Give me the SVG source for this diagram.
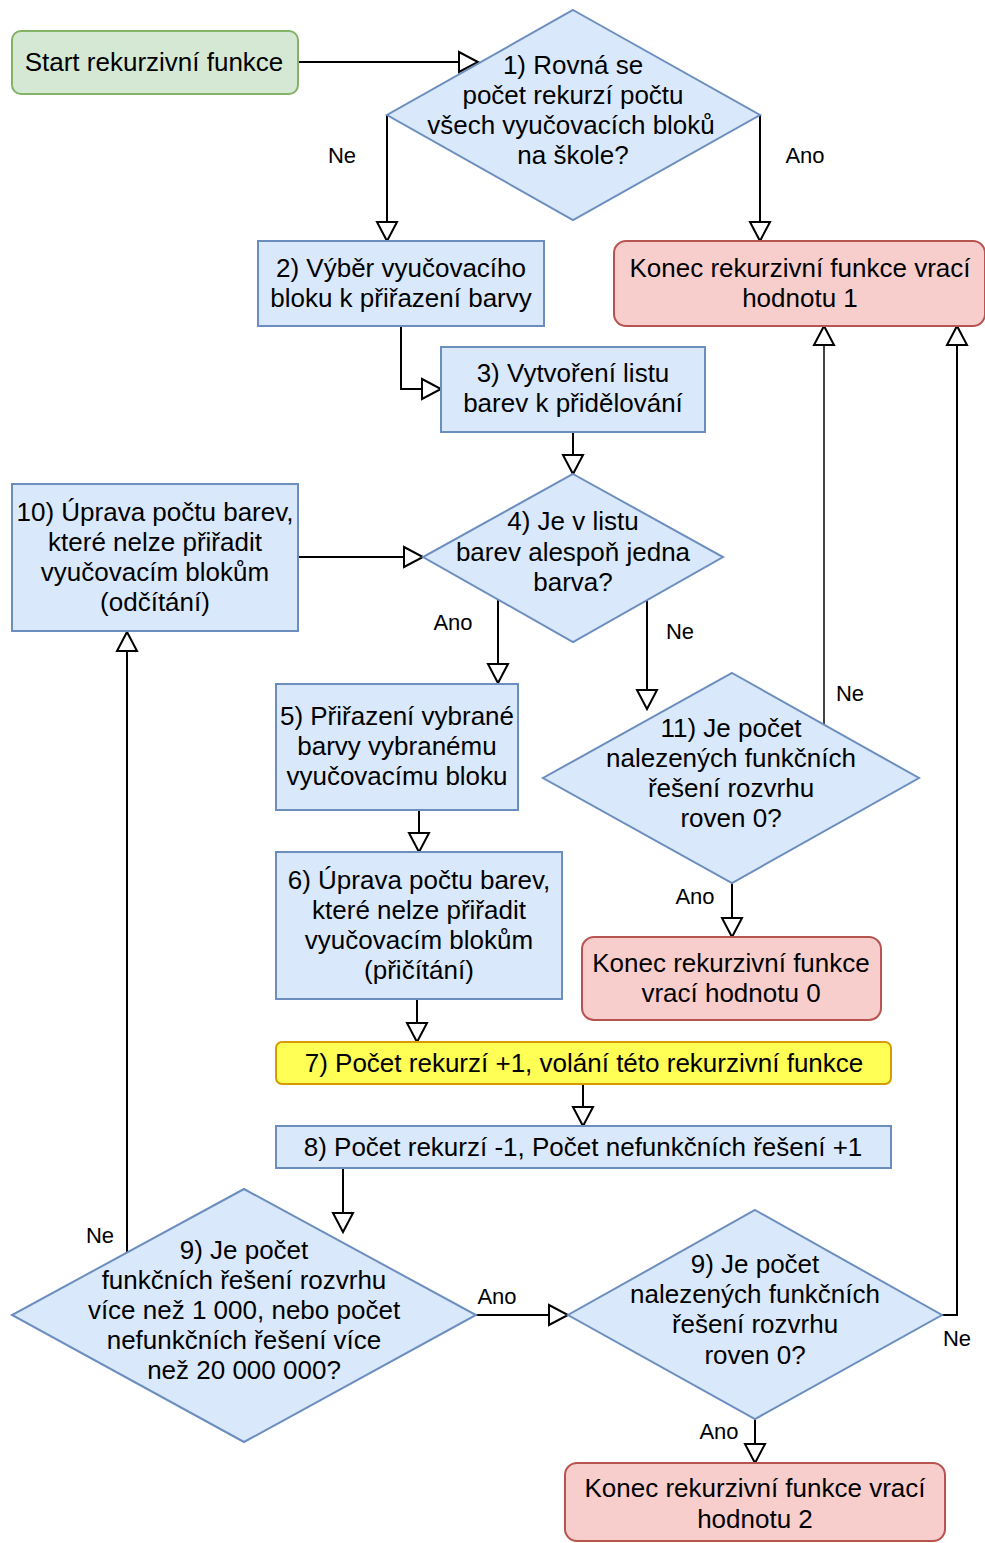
<svg xmlns="http://www.w3.org/2000/svg" width="985" height="1543" viewBox="0 0 985 1543">
<style>
text{font-family:"Liberation Sans",Arial,sans-serif;font-size:26px;fill:#000;text-anchor:middle}
.lbl{font-size:22px}
.blue{fill:#dae8fc;stroke:#6c8ebf;stroke-width:2}
.red{fill:#f8cecc;stroke:#b85450;stroke-width:2}
.green{fill:#d5e8d4;stroke:#82b366;stroke-width:2}
.yellow{fill:#ffff55;stroke:#d79b00;stroke-width:2}
.edge{fill:none;stroke:#000;stroke-width:2;marker-end:url(#arr)}
</style>
<defs>
<marker id="arr" markerWidth="24" markerHeight="24" viewBox="-2 -2 24 24" refX="19" refY="10" orient="auto" markerUnits="userSpaceOnUse">
<path d="M0,0 L19,10 L0,20 Z" fill="#fff" stroke="#000" stroke-width="2"/>
</marker>
</defs>
<rect width="985" height="1543" fill="#fff"/>
<g id="connectors">
<path class="edge" d="M298,62 H478"/>
<path class="edge" d="M387,115 V241"/>
<path class="edge" d="M760,115 V241"/>
<path class="edge" d="M401,326 V389 H441"/>
<path class="edge" d="M573,432 V474"/>
<path class="edge" d="M298,557 H423"/>
<path class="edge" d="M498,599 V683"/>
<path class="edge" d="M647,600 V709"/>
<path class="edge" d="M824,724 V326" style="stroke:#444"/>
<path class="edge" d="M732,883 V937"/>
<path class="edge" d="M419,810 V852"/>
<path class="edge" d="M417,1000 V1042"/>
<path class="edge" d="M583,1084 V1126"/>
<path class="edge" d="M343,1168 V1232"/>
<path class="edge" d="M127,1252 V632"/>
<path class="edge" d="M476,1315 H568"/>
<path class="edge" d="M942,1315 H957 V326"/>
<path class="edge" d="M755,1419 V1463"/>
<text class="lbl" x="342" y="163">Ne</text>
<text class="lbl" x="805" y="163">Ano</text>
<text class="lbl" x="453" y="630">Ano</text>
<text class="lbl" x="680" y="639">Ne</text>
<text class="lbl" x="850" y="701">Ne</text>
<text class="lbl" x="695" y="904">Ano</text>
<text class="lbl" x="100" y="1243">Ne</text>
<text class="lbl" x="497" y="1304">Ano</text>
<text class="lbl" x="957" y="1346">Ne</text>
<text class="lbl" x="719" y="1439">Ano</text>
</g>
<g id="start">
<rect class="green" x="12" y="31" width="286" height="63" rx="9"/>
<text x="154" y="71">Start rekurzivní funkce</text>
</g>
<g id="d1">
<polygon class="blue" points="573,10 760,115 573,220 387,115"/>
<text x="573" y="74">1) Rovná se</text>
<text x="573" y="104">počet rekurzí počtu</text>
<text x="571" y="134">všech vyučovacích bloků</text>
<text x="573" y="164">na škole?</text>
</g>
<g id="n2">
<rect class="blue" x="258" y="241" width="286" height="85"/>
<text x="401" y="277">2) Výběr vyučovacího</text>
<text x="401" y="307">bloku k přiřazení barvy</text>
</g>
<g id="end1">
<rect class="red" x="614" y="241" width="371" height="85" rx="12"/>
<text x="800" y="277">Konec rekurzivní funkce vrací</text>
<text x="800" y="307">hodnotu 1</text>
</g>
<g id="n3">
<rect class="blue" x="441" y="347" width="264" height="85"/>
<text x="573" y="382">3) Vytvoření listu</text>
<text x="573" y="412">barev k přidělování</text>
</g>
<g id="d4">
<polygon class="blue" points="573,474 723,557 573,642 423,557"/>
<text x="573" y="530">4) Je v listu</text>
<text x="573" y="561">barev alespoň jedna</text>
<text x="573" y="591">barva?</text>
</g>
<g id="n10">
<rect class="blue" x="12" y="484" width="286" height="147"/>
<text x="155" y="521">10) Úprava počtu barev,</text>
<text x="155" y="551">které nelze přiřadit</text>
<text x="155" y="581">vyučovacím blokům</text>
<text x="155" y="611">(odčítání)</text>
</g>
<g id="n5">
<rect class="blue" x="276" y="684" width="242" height="126"/>
<text x="397" y="725">5) Přiřazení vybrané</text>
<text x="397" y="755">barvy vybranému</text>
<text x="397" y="785">vyučovacímu bloku</text>
</g>
<g id="d11">
<polygon class="blue" points="732,673 919,778 732,883 543,778"/>
<text x="731" y="737">11) Je počet</text>
<text x="731" y="767">nalezených funkčních</text>
<text x="731" y="797">řešení rozvrhu</text>
<text x="731" y="827">roven 0?</text>
</g>
<g id="n6">
<rect class="blue" x="276" y="852" width="286" height="147"/>
<text x="419" y="889">6) Úprava počtu barev,</text>
<text x="419" y="919">které nelze přiřadit</text>
<text x="419" y="949">vyučovacím blokům</text>
<text x="419" y="979">(přičítání)</text>
</g>
<g id="end0">
<rect class="red" x="582" y="937" width="299" height="83" rx="12"/>
<text x="731" y="972">Konec rekurzivní funkce</text>
<text x="731" y="1002">vrací hodnotu 0</text>
</g>
<g id="n7">
<rect class="yellow" x="276" y="1042" width="615" height="42" rx="6"/>
<text x="584" y="1072">7) Počet rekurzí +1, volání této rekurzivní funkce</text>
</g>
<g id="n8">
<rect class="blue" x="276" y="1126" width="615" height="42"/>
<text x="583" y="1156">8) Počet rekurzí -1, Počet nefunkčních řešení +1</text>
</g>
<g id="d9a">
<polygon class="blue" points="244,1189 476,1315 244,1442 12,1315"/>
<text x="244" y="1259">9) Je počet</text>
<text x="244" y="1289">funkčních řešení rozvrhu</text>
<text x="244" y="1319">více než 1 000, nebo počet</text>
<text x="244" y="1349">nefunkčních řešení více</text>
<text x="244" y="1379">než 20 000 000?</text>
</g>
<g id="d9b">
<polygon class="blue" points="755,1210 942,1315 755,1419 568,1315"/>
<text x="755" y="1273">9) Je počet</text>
<text x="755" y="1303">nalezených funkčních</text>
<text x="755" y="1333">řešení rozvrhu</text>
<text x="755" y="1364">roven 0?</text>
</g>
<g id="end2">
<rect class="red" x="565" y="1463" width="380" height="78" rx="12"/>
<text x="755" y="1497">Konec rekurzivní funkce vrací</text>
<text x="755" y="1528">hodnotu 2</text>
</g>
</svg>
